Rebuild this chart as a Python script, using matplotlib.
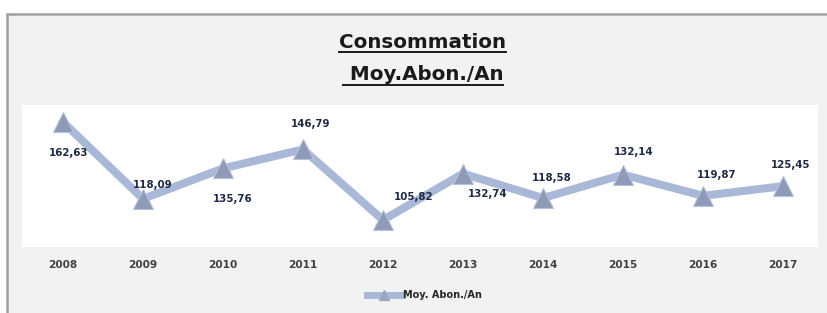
import matplotlib.pyplot as plt
from matplotlib.patches import Rectangle
from matplotlib.lines import Line2D

# data
years = ['2008', '2009', '2010', '2011', '2012', '2013', '2014', '2015', '2016', '2017']
moy_abon = [162.63, 118.09, 135.76, 146.79, 105.82, 132.74, 118.58, 132.14, 119.87, 125.45]
series_name = 'Moy. Abon./An'
title_lines = ['Consommation', ' Moy.Abon./An']

# label offsets in pixels (dx right, dy down) relative to each point
label_offsets = [(6, 31), (10, -14), (10, 31), (8, -25), (31, -23),
                 (25, 20), (9, -20), (11, -23), (14, -21), (8, -21)]

W, H = 827, 313
fig = plt.figure(figsize=(W / 100, H / 100), dpi=100)
fig.patch.set_facecolor('white')

# chart area box (light gray with gray border)
fig.patches.append(Rectangle((7 / W, -0.05), 1.0, (H - 14) / H + 0.05,
                             transform=fig.transFigure, facecolor='#f2f2f2',
                             edgecolor='#a0a0a0', linewidth=1.8, zorder=-5))

ax = fig.add_axes([22 / W, (H - 247) / H, 796 / W, 142 / H])
ax.set_facecolor('white')
for s in ax.spines.values():
    s.set_visible(False)

x = list(range(len(years)))
line_col = '#aab8d8'
mark_col = '#8e9ab6'
ax.plot(x, moy_abon, color=line_col, linewidth=5.8, solid_joinstyle='miter',
        marker='^', markersize=15, markerfacecolor=mark_col,
        markeredgecolor='#b5c1dc', markeredgewidth=0.8, label=series_name)

for xi, v, (dx, dy) in zip(x, moy_abon, label_offsets):
    ax.annotate(f'{v:.2f}'.replace('.', ','), (xi, v),
                xytext=(dx * 0.72, -dy * 0.72), textcoords='offset points',
                ha='center', va='center', fontsize=7.4, fontweight='bold',
                color='#1f2a44')

ax.set_xlim(-0.5125, 9.4375)
ax.set_ylim(90.2, 172.5)
ax.set_yticks([])
ax.set_xticks(x)
ax.set_xticklabels(years, fontsize=7.6, fontweight='bold', color='#404040')
ax.tick_params(axis='x', length=0, pad=9.5)

# legend
leg = fig.legend(handles=[Line2D([], [], color=line_col, linewidth=5, marker='^',
                                 markersize=7, markerfacecolor='#9aa7c2',
                                 markeredgecolor='#9aa7c2')],
                 labels=[series_name], loc='center', bbox_to_anchor=(424 / W, (H - 295) / H),
                 frameon=False, fontsize=7, handlelength=3.6, handletextpad=0.1)
for t in leg.get_texts():
    t.set_fontweight('bold')
    t.set_color('#262626')

# title, two underlined lines
baselines = [48, 80]
txts = []
for line, yb in zip(title_lines, baselines):
    txts.append(fig.text(423 / W, (H - yb) / H, line, ha='center', va='baseline',
                         fontsize=14.3, fontweight='bold', color='#1a1a1a'))

fig.canvas.draw()
r = fig.canvas.get_renderer()
for t, yb in zip(txts, [52, 85]):
    bb = t.get_window_extent(r)
    fig.add_artist(Line2D([bb.x0 / W, bb.x1 / W], [(H - yb) / H] * 2,
                          transform=fig.transFigure, color='#1a1a1a', linewidth=1.4))

fig.savefig('out.png', dpi=100)
